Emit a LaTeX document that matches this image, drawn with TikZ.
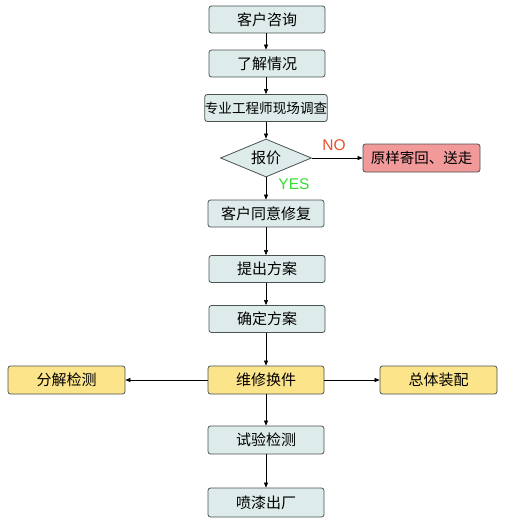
\documentclass[tikz,border=0pt]{standalone}
\usepackage{fontspec}
\setmainfont{Noto Sans CJK SC}
\setsansfont{Liberation Sans}
\usetikzlibrary{shapes.geometric,arrows.meta}
\definecolor{boxfill}{HTML}{DDEBEA}
\definecolor{boxdraw}{HTML}{4A5252}
\definecolor{yelfill}{HTML}{FCE48A}
\definecolor{pinkfill}{HTML}{F2999A}
\definecolor{nocol}{HTML}{E8502A}
\definecolor{yescol}{HTML}{33DD33}
\begin{document}
\begin{tikzpicture}[x=1pt,y=-1pt,
  stepbox/.style={draw=boxdraw,fill=boxfill,rounded corners=2.5pt,minimum width=116pt,minimum height=27pt,inner sep=0pt,font=\fontsize{15}{16}\selectfont,line width=0.8pt},
  yelbox/.style={stepbox,fill=yelfill},
  pinkbox/.style={stepbox,fill=pinkfill,draw=boxdraw},
  decide/.style={diamond,aspect=2.4,draw=boxdraw,fill=boxfill,minimum width=91pt,minimum height=38pt,inner sep=0pt,font=\fontsize{15}{16}\selectfont,line width=0.8pt},
  conn/.style={draw=black,line width=0.6pt,-{Triangle[length=5pt,width=4pt]}}]
\useasboundingbox (0,0) rectangle (516,524);
\node[stepbox] (a) at (267,19.5) {客户咨询};
\node[stepbox] (b) at (267,63.5) {了解情况};
\node[stepbox,minimum width=122pt,font=\fontsize{13.6}{15}\selectfont] (c) at (266,108) {专业工程师现场调查};
\node[decide] (d) at (266,158) {报价};
\node[pinkbox,minimum width=117pt,minimum height=28pt,font=\fontsize{14.5}{16}\selectfont] (e) at (421.5,158) {原样寄回、送走};
\node[stepbox] (f) at (266,213.5) {客户同意修复};
\node[stepbox] (g) at (267,269) {提出方案};
\node[stepbox] (h) at (267,319) {确定方案};
\node[yelbox,minimum height=28pt] (i) at (266,380) {维修换件};
\node[yelbox,minimum width=117pt,minimum height=28pt] (j) at (66.5,380) {分解检测};
\node[yelbox,minimum width=117pt,minimum height=28pt] (k) at (438.5,380) {总体装配};
\node[stepbox,minimum height=28pt] (l) at (266,440) {试验检测};
\node[stepbox,minimum height=29pt] (m) at (266,502.5) {喷漆出厂};
\node[font=\sffamily\fontsize{15.5}{17}\selectfont,text=nocol] (nolab) at (334,145) {NO};
\node[font=\sffamily\fontsize{15.5}{17}\selectfont,text=yescol] (yeslab) at (294,184) {YES};
\draw[conn] (a.south -| 266,0) -- (b.north -| 266,0);
\draw[conn] (b.south -| 266,0) -- (c.north);
\draw[conn] (c.south) -- (d.north);
\draw[conn] (d.east) -- (e.west);
\draw[conn] (d.south) -- (f.north);
\draw[conn] (f.south) -- (g.north -| 266,0);
\draw[conn] (g.south -| 266,0) -- (h.north -| 266,0);
\draw[conn] (h.south -| 266,0) -- (i.north);
\draw[conn] (i.west) -- (j.east);
\draw[conn] (i.east) -- (k.west);
\draw[conn] (i.south) -- (l.north);
\draw[conn] (l.south) -- (m.north);
\end{tikzpicture}
\end{document}
